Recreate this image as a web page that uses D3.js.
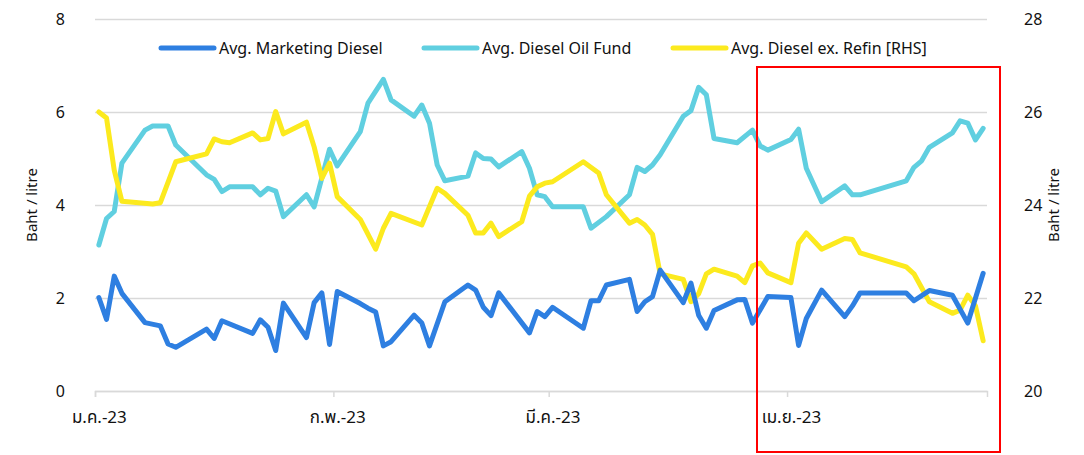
<!DOCTYPE html>
<html>
<head>
<meta charset="utf-8">
<script src="https://cdn.jsdelivr.net/npm/d3@7"></script>
<style>
  body { margin: 0; background: #fff; }
  text { font-family: "Noto Sans", "Noto Sans Thai", "DejaVu Sans", sans-serif; fill: #111; }
</style>
</head>
<body>
<div id="vis"></div>
<script>
// data (daily, gaps are days without a price)
let mktDates = ["2023-01-01","2023-01-02","2023-01-03","2023-01-04","2023-01-07","2023-01-09","2023-01-10","2023-01-11",
  "2023-01-15","2023-01-16","2023-01-17","2023-01-21","2023-01-22","2023-01-23","2023-01-24","2023-01-25","2023-01-28",
  "2023-01-29","2023-01-30","2023-01-31","2023-02-01","2023-02-04","2023-02-05","2023-02-06","2023-02-07","2023-02-08",
  "2023-02-11","2023-02-12","2023-02-13","2023-02-15","2023-02-18","2023-02-19","2023-02-20","2023-02-21","2023-02-22",
  "2023-02-26","2023-02-27","2023-02-28","2023-03-01","2023-03-05","2023-03-06","2023-03-07","2023-03-08","2023-03-11",
  "2023-03-12","2023-03-13","2023-03-14","2023-03-15","2023-03-18","2023-03-19","2023-03-20","2023-03-21","2023-03-22",
  "2023-03-25","2023-03-26","2023-03-27","2023-03-29","2023-04-01","2023-04-02","2023-04-03","2023-04-05","2023-04-08",
  "2023-04-09","2023-04-10","2023-04-16","2023-04-17","2023-04-19","2023-04-22","2023-04-24","2023-04-26"]
let mktValues = [2.01,1.54,2.47,2.10,1.47,1.40,1.01,0.94,
  1.33,1.13,1.51,1.24,1.53,1.37,0.87,1.89,1.15,
  1.90,2.11,1.00,2.14,1.88,1.78,1.70,0.97,1.06,
  1.63,1.46,0.97,1.92,2.28,2.17,1.80,1.62,2.11,
  1.25,1.71,1.60,1.80,1.35,1.94,1.94,2.28,2.40,
  1.71,1.92,2.03,2.60,1.90,2.32,1.63,1.35,1.73,
  1.96,1.97,1.46,2.03,2.01,0.98,1.56,2.17,1.60,
  1.83,2.11,2.11,1.94,2.16,2.06,1.46,2.53]

let fundDates = ["2023-01-01","2023-01-02","2023-01-03","2023-01-04","2023-01-07","2023-01-08","2023-01-10","2023-01-11",
  "2023-01-15","2023-01-16","2023-01-17","2023-01-18","2023-01-21","2023-01-22","2023-01-23","2023-01-24","2023-01-25",
  "2023-01-28","2023-01-29","2023-01-31","2023-02-01","2023-02-04","2023-02-05","2023-02-07","2023-02-08","2023-02-11",
  "2023-02-12","2023-02-13","2023-02-14","2023-02-15","2023-02-18","2023-02-19","2023-02-20","2023-02-21","2023-02-22",
  "2023-02-25","2023-02-26","2023-02-27","2023-02-28","2023-03-01","2023-03-05","2023-03-06","2023-03-08","2023-03-11",
  "2023-03-12","2023-03-13","2023-03-14","2023-03-15","2023-03-18","2023-03-19","2023-03-20","2023-03-21","2023-03-22",
  "2023-03-25","2023-03-27","2023-03-28","2023-03-29","2023-04-01","2023-04-02","2023-04-03","2023-04-05","2023-04-08",
  "2023-04-09","2023-04-10","2023-04-16","2023-04-17","2023-04-18","2023-04-19","2023-04-22","2023-04-23","2023-04-24",
  "2023-04-25","2023-04-26"]
let fundValues = [3.14,3.71,3.86,4.90,5.61,5.70,5.70,5.29,
  4.65,4.55,4.29,4.39,4.39,4.22,4.36,4.30,3.75,
  4.22,3.96,5.20,4.84,5.58,6.19,6.70,6.26,5.91,
  6.15,5.76,4.86,4.52,4.62,5.12,5.00,4.99,4.82,
  5.15,4.79,4.22,4.18,3.96,3.96,3.50,3.75,4.22,
  4.81,4.72,4.86,5.08,5.91,6.03,6.53,6.37,5.43,
  5.34,5.61,5.27,5.18,5.41,5.63,4.79,4.07,4.41,
  4.22,4.22,4.52,4.81,4.95,5.24,5.55,5.81,5.76,
  5.40,5.65]

let refDates = ["2023-01-01","2023-01-02","2023-01-03","2023-01-04","2023-01-08","2023-01-09","2023-01-11","2023-01-15",
  "2023-01-16","2023-01-17","2023-01-18","2023-01-21","2023-01-22","2023-01-23","2023-01-24","2023-01-25","2023-01-28",
  "2023-01-29","2023-01-30","2023-01-31","2023-02-01","2023-02-04","2023-02-06","2023-02-07","2023-02-08","2023-02-12",
  "2023-02-14","2023-02-15","2023-02-18","2023-02-19","2023-02-20","2023-02-21","2023-02-22","2023-02-25","2023-02-26",
  "2023-02-27","2023-02-28","2023-03-01","2023-03-05","2023-03-07","2023-03-08","2023-03-11","2023-03-12","2023-03-13",
  "2023-03-14","2023-03-15","2023-03-18","2023-03-19","2023-03-20","2023-03-21","2023-03-22","2023-03-25","2023-03-26",
  "2023-03-27","2023-03-28","2023-03-29","2023-04-01","2023-04-02","2023-04-03","2023-04-05","2023-04-08","2023-04-09",
  "2023-04-10","2023-04-16","2023-04-17","2023-04-19","2023-04-22","2023-04-23","2023-04-24","2023-04-25","2023-04-26"]
let refValues = [26.00,25.87,24.75,24.08,24.02,24.05,24.93,25.10,
  25.42,25.36,25.34,25.55,25.40,25.43,26.01,25.53,25.78,
  25.25,24.57,24.90,24.18,23.69,23.05,23.50,23.82,23.57,
  24.36,24.25,23.78,23.40,23.40,23.61,23.32,23.64,24.19,
  24.39,24.47,24.50,24.93,24.69,24.22,23.61,23.69,23.57,
  23.37,22.52,22.40,21.92,22.09,22.52,22.62,22.47,22.33,
  22.69,22.75,22.54,22.33,23.18,23.40,23.05,23.28,23.26,
  22.97,22.67,22.52,21.92,21.67,21.74,22.06,21.83,21.08]

let seriesNames = ["Avg. Marketing Diesel", "Avg. Diesel Oil Fund", "Avg. Diesel ex. Refin [RHS]"]
let seriesColors = ["#2e7fe1", "#60cfe0", "#fcea1e"]
let leftTicks = [0, 2, 4, 6, 8]
let rightTicks = [20, 22, 24, 26, 28]
let xLabels = ["ม.ค.-23", "ก.พ.-23", "มี.ค.-23", "เม.ย.-23"]

function draw(){
    let svg = d3.select("#vis")
                    .append('svg')
                    .attr('width', 1084)
                    .attr('height', 455)

    let parse = d3.timeParse("%Y-%m-%d")
    let left = 95, right = 987, top = 19, bottom = 391

    let x = d3.scaleTime()
        .domain([parse("2023-01-01"), parse("2023-04-27")])
        .range([left, right])
    let yL = d3.scaleLinear().domain([0, 8]).range([bottom, top])
    let yR = d3.scaleLinear().domain([20, 28]).range([bottom, top])

    // points sit in the middle of their day
    let halfDay = (x(parse("2023-01-02")) - x(parse("2023-01-01"))) / 2

    // gridlines + left labels
    let gl = svg.append('g')
        .attr('transform', `translate(${left},0)`)
        .call(d3.axisLeft(yL).tickValues(leftTicks).tickSize(-(right - left)).tickPadding(30))
    gl.select('.domain').remove()
    gl.selectAll('line').attr('stroke', '#d9d9d9').attr('stroke-width', 1.5)
    gl.selectAll('text').style('font-size', '16px').attr('fill', '#111')

    let gr = svg.append('g')
        .attr('transform', `translate(${right},0)`)
        .call(d3.axisRight(yR).tickValues(rightTicks).tickSize(0).tickPadding(37))
    gr.select('.domain').remove()
    gr.selectAll('text').style('font-size', '16px').attr('fill', '#111')

    // month axis
    let months = d3.timeMonth.range(parse("2023-01-01"), parse("2023-04-27"))
    let gx = svg.append('g')
        .attr('transform', `translate(0,${bottom})`)
        .call(d3.axisBottom(x).tickValues(months).tickSize(6).tickPadding(14)
            .tickFormat((d, i) => xLabels[i]))
    gx.select('.domain').attr('stroke', '#d9d9d9').attr('stroke-width', 1.5)
    gx.selectAll('line').attr('stroke', '#d9d9d9').attr('stroke-width', 1.5)
    gx.selectAll('text').attr('dx', halfDay).style('font-size', '17px').attr('fill', '#111')

    // axis titles
    svg.append('text')
        .attr('transform', 'translate(37,205) rotate(-90)')
        .attr('text-anchor', 'middle')
        .style('font-size', '15px')
        .text('Baht / litre')
    svg.append('text')
        .attr('transform', 'translate(1059,205) rotate(-90)')
        .attr('text-anchor', 'middle')
        .style('font-size', '15px')
        .text('Baht / litre')

    // the three series
    let series = [
        {dates: mktDates, values: mktValues, y: yL},
        {dates: fundDates, values: fundValues, y: yL},
        {dates: refDates, values: refValues, y: yR}
    ]
    let order = [1, 2, 0]
    order.forEach(i => {
        let s = series[i]
        let pts = s.dates.map((d, j) => [parse(d), s.values[j]])
        let line = d3.line()
            .x(p => x(p[0]) + halfDay)
            .y(p => s.y(p[1]))
        svg.append('path')
            .datum(pts)
            .attr('d', line)
            .attr('fill', 'none')
            .attr('stroke', seriesColors[i])
            .attr('stroke-width', 5)
            .attr('stroke-linejoin', 'round')
            .attr('stroke-linecap', 'round')
    })

    // legend
    let legX = [161, 424, 673]
    seriesNames.forEach((name, i) => {
        svg.append('line')
            .attr('x1', legX[i]).attr('x2', legX[i] + 53)
            .attr('y1', 48).attr('y2', 48)
            .attr('stroke', seriesColors[i])
            .attr('stroke-width', 5)
            .attr('stroke-linecap', 'round')
        svg.append('text')
            .attr('x', legX[i] + 58)
            .attr('y', 48)
            .attr('dy', '0.35em')
            .style('font-size', '16px')
            .text(name)
    })

    // highlight box
    svg.append('rect')
        .attr('x', 757).attr('y', 67)
        .attr('width', 243).attr('height', 385)
        .attr('fill', 'none')
        .attr('stroke', '#ff0000')
        .attr('stroke-width', 2)
}

draw()
</script>
</body>
</html>
